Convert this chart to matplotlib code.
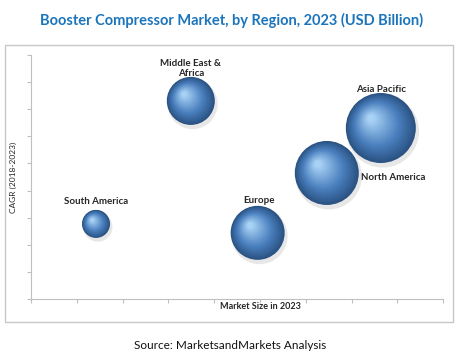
import numpy as np
import matplotlib
matplotlib.use('Agg')
import matplotlib.pyplot as plt
from matplotlib.colors import to_rgb
from matplotlib.patches import Rectangle

# dados
regions = ['South America', 'Middle East &\nAfrica', 'Asia Pacific', 'North America', 'Europe']
market_size = [1.42, 3.49, 7.64, 6.46, 4.95]
cagr = [2.77, 7.31, 6.31, 4.65, 2.44]
bubble = [28, 48, 70, 64, 54]   # diametro relativo das bolhas

plt.rcParams['font.family'] = ['Lato', 'DejaVu Sans']

fig = plt.figure(figsize=(4.63, 3.58), dpi=100)

# moldura externa
fig.patches.append(Rectangle((0.0108, 0.1006), 0.967, 0.773, transform=fig.transFigure,
                             fill=False, edgecolor='#C8C8C8', linewidth=1.0))

ax = fig.add_axes([0.067, 0.165, 0.890, 0.681])
ax.set_xlim(0, 9)
ax.set_ylim(0, 9)
ax.set_xticks(range(10))
ax.set_yticks(range(10))
ax.set_xticklabels([])
ax.set_yticklabels([])
ax.tick_params(length=3, color='#BFBFBF', width=0.8)
for s in ['top', 'right']:
    ax.spines[s].set_visible(False)
for s in ['left', 'bottom']:
    ax.spines[s].set_color('#BFBFBF')
    ax.spines[s].set_linewidth(0.8)

dark = np.array(to_rgb('#2A5282'))
mid = np.array(to_rgb('#4A7FBE'))
light = np.array(to_rgb('#A8D2F5'))

# esferas com degrade
n = 30
for x, y, d in zip(market_size, cagr, bubble):
    # sombra
    ax.scatter(x + 0.04, y - 0.12, s=(d * 0.72 * 1.04) ** 2, color='#D8D8D8', alpha=0.6,
               edgecolors='none', zorder=2)
    for k in range(n):
        f = k / (n - 1)
        r = d * (1 - 0.9 * f)
        if f < 0.4:
            c = dark + (mid - dark) * (f / 0.4)
        else:
            c = mid + (light - mid) * ((f - 0.4) / 0.6)
        dx = -0.28 * f * d / 2 / 45.8
        dy = 0.28 * f * d / 2 / 27.1
        ax.scatter(x + dx, y + dy, s=(r * 0.72) ** 2, color=c, edgecolors='none', zorder=3)

lab_pos = {
    'South America': (1.42, 3.58, 'center'),
    'Middle East &\nAfrica': (3.49, 8.5, 'center'),
    'Asia Pacific': (7.64, 7.74, 'center'),
    'North America': (7.2, 4.5, 'left'),
    'Europe': (4.97, 3.63, 'center'),
}
for name in regions:
    lx, ly, ha = lab_pos[name]
    ax.text(lx, ly, name, ha=ha, va='center', fontsize=7, fontweight='bold',
            color='#262626', zorder=5, linespacing=1.1)

fig.text(0.5615, 0.145, 'Market Size in 2023', ha='center', va='center', fontsize=6.5,
         fontweight='bold', color='#262626')
fig.text(0.03, 0.505, 'CAGR (2018-2023)', ha='center', va='center', fontsize=6,
         rotation=90, color='#262626')

fig.text(0.5, 0.944, 'Booster Compressor Market, by Region, 2023 (USD Billion)',
         ha='center', va='center', fontsize=10.5, fontweight='bold', color='#1B75BC')
fig.text(0.497, 0.034, 'Source: MarketsandMarkets Analysis', ha='center', va='center',
         fontsize=8.5, color='#111111')

fig.savefig('out.png', dpi=100)
